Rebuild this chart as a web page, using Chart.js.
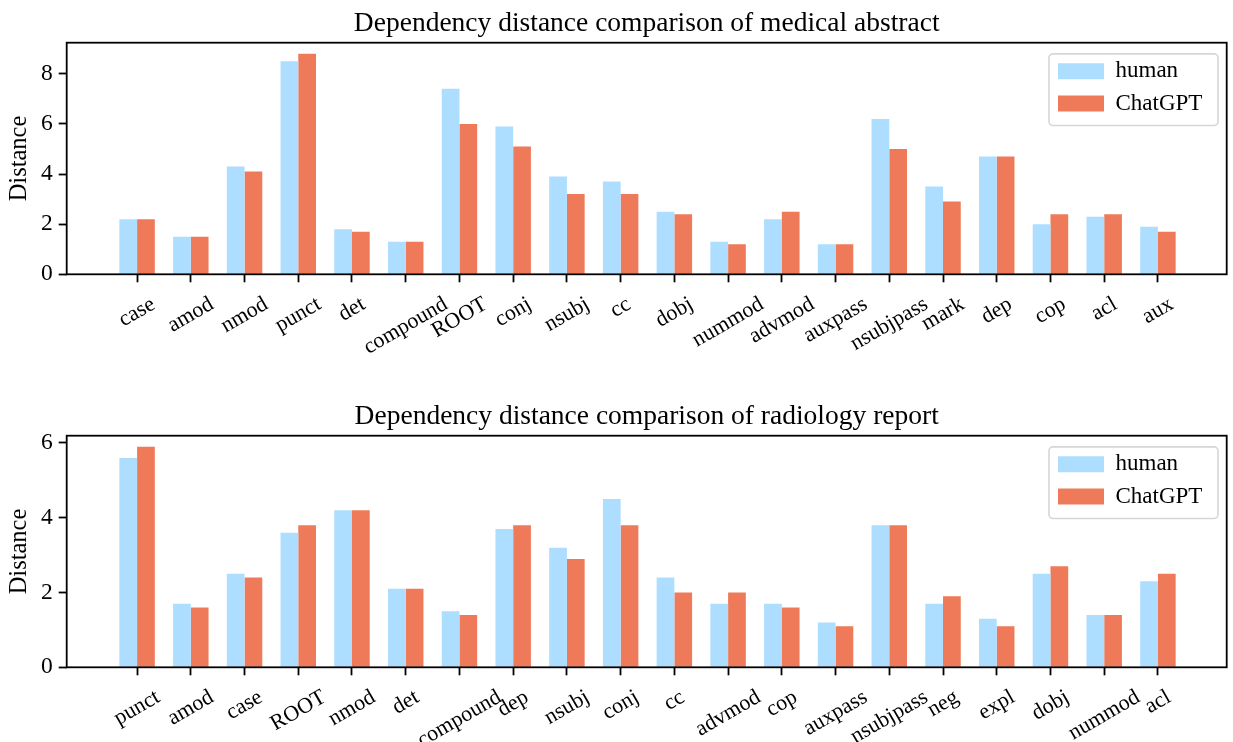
<!DOCTYPE html>
<html>
<head>
<meta charset="utf-8">
<script src="https://cdn.jsdelivr.net/npm/chart.js@4.4.0/dist/chart.umd.min.js"></script>
<style>
html,body{margin:0;padding:0;background:#fff;width:1233px;height:742px;overflow:hidden;position:relative;}
.box{position:absolute;left:0;width:1233px;}
canvas{display:block;}
</style>
</head>
<body>
<div class="box" style="top:0px;height:393px"><canvas id="c1" width="1233" height="393" style="width:1233px;height:393px"></canvas></div>
<div class="box" style="top:393px;height:349px"><canvas id="c2" width="1233" height="349" style="width:1233px;height:349px"></canvas></div>
<script>
// ---------- data ----------
const medicalTitle = 'Dependency distance comparison of medical abstract';
const medicalCategories = ['case','amod','nmod','punct','det','compound','ROOT','conj','nsubj','cc','dobj','nummod','advmod','auxpass','nsubjpass','mark','dep','cop','acl','aux'];
const medicalHuman   = [2.2,1.5,4.3,8.5,1.8,1.3,7.4,5.9,3.9,3.7,2.5,1.3,2.2,1.2,6.2,3.5,4.7,2.0,2.3,1.9];
const medicalChatGPT = [2.2,1.5,4.1,8.8,1.7,1.3,6.0,5.1,3.2,3.2,2.4,1.2,2.5,1.2,5.0,2.9,4.7,2.4,2.4,1.7];
const medicalYMax = 9.24;

const radiologyTitle = 'Dependency distance comparison of radiology report';
const radiologyCategories = ['punct','amod','case','ROOT','nmod','det','compound','dep','nsubj','conj','cc','advmod','cop','auxpass','nsubjpass','neg','expl','dobj','nummod','acl'];
const radiologyHuman   = [5.6,1.7,2.5,3.6,4.2,2.1,1.5,3.7,3.2,4.5,2.4,1.7,1.7,1.2,3.8,1.7,1.3,2.5,1.4,2.3];
const radiologyChatGPT = [5.9,1.6,2.4,3.8,4.2,2.1,1.4,3.8,2.9,3.8,2.0,2.0,1.6,1.1,3.8,1.9,1.1,2.7,1.4,2.5];
const radiologyYMax = 6.195;

const seriesNames = ['human','ChatGPT'];
const yAxisTitle = 'Distance';
const yStep = 2;

// ---------- style ----------
const FONT = "'Liberation Serif', 'Times New Roman', serif";
const HUMAN_COLOR = '#ADDEFF';
const GPT_COLOR = '#EE7A5A';

const framePlugin = {
  id: 'frame',
  afterLayout(chart) {
    const ca = chart.chartArea;
    const lg = chart.legend;
    if (lg) {
      lg.left = ca.right - 178.1;
      lg.top = ca.top + 7.6;
    }
  },
  beforeDraw(chart) {
    const ctx = chart.ctx, ca = chart.chartArea;
    const x0 = ca.right - 177.7, x1 = ca.right - 8.7, y0 = ca.top + 11.2, y1 = ca.top + 82.8;
    const r = 4;
    ctx.save();
    ctx.beginPath();
    ctx.moveTo(x0 + r, y0);
    ctx.arcTo(x1, y0, x1, y1, r);
    ctx.arcTo(x1, y1, x0, y1, r);
    ctx.arcTo(x0, y1, x0, y0, r);
    ctx.arcTo(x0, y0, x1, y0, r);
    ctx.closePath();
    ctx.fillStyle = '#ffffff';
    ctx.fill();
    ctx.lineWidth = 1.6;
    ctx.strokeStyle = '#d6d6d6';
    ctx.stroke();
    ctx.restore();
  },
  afterDatasetsDraw(chart) {
    const ctx = chart.ctx, ca = chart.chartArea;
    ctx.save();
    ctx.lineWidth = 1.8;
    ctx.strokeStyle = '#000';
    ctx.strokeRect(ca.left, ca.top, ca.right - ca.left, ca.bottom - ca.top);
    ctx.restore();
  },
  afterDraw(chart) {
    // rotated x tick labels, centred on the tick (matplotlib style)
    const xs = chart.scales.x, ctx = chart.ctx;
    const a = 30 * Math.PI / 180;
    const fs = 22;
    ctx.save();
    ctx.font = fs + 'px ' + FONT;
    ctx.fillStyle = '#000';
    ctx.textAlign = 'center';
    ctx.textBaseline = 'middle';
    const yTop = chart.chartArea.bottom + 18;
    xs.ticks.forEach((t) => {
      const x = xs.getPixelForValue(t.value);
      const label = t.label;
      const w = ctx.measureText(label).width;
      const h = fs * 1.1;
      const bh = w * Math.sin(a) + h * Math.cos(a);
      ctx.save();
      ctx.translate(x, yTop + bh / 2);
      ctx.rotate(-a);
      ctx.fillText(label, 0, 0);
      ctx.restore();
    });
    ctx.restore();
  }
};

function makeChart(id, title, cats, human, gpt, ymax, padBottom) {
  const toPts = (arr) => arr.map((v, i) => ({x: i, y: v}));
  return new Chart(document.getElementById(id), {
    type: 'bar',
    data: {
      datasets: [
        {label: seriesNames[0], data: toPts(human), backgroundColor: HUMAN_COLOR, borderWidth: 0, categoryPercentage: 0.66, barPercentage: 1},
        {label: seriesNames[1], data: toPts(gpt), backgroundColor: GPT_COLOR, borderWidth: 0, categoryPercentage: 0.66, barPercentage: 1}
      ]
    },
    options: {
      responsive: false,
      animation: false,
      devicePixelRatio: 1,
      layout: {padding: {left: 0, right: 6.3, top: 0, bottom: padBottom}},
      plugins: {
        title: {
          display: true, text: title, color: '#000', fullSize: false,
          font: {family: FONT, size: 27.5, weight: 'normal', lineHeight: 1.2},
          padding: {top: 7.5, bottom: 2.2}
        },
        legend: {
          display: true, position: 'chartArea', align: 'start',
          labels: {boxWidth: 46, boxHeight: 16, padding: 9.4, color: '#000', font: {family: FONT, size: 23}}
        },
        tooltip: {enabled: false}
      },
      scales: {
        x: {
          type: 'linear', offset: false,
          min: -1.31, max: cats.length + 0.28,
          afterBuildTicks: (s) => { s.ticks = cats.map((c, i) => ({value: i})); },
          afterFit: (s) => { s.height = 74.7; },
          ticks: {display: false, callback: (v) => cats[v]},
          grid: {display: true, offset: false, drawOnChartArea: false, drawTicks: true, tickLength: 8, tickWidth: 1.8, tickColor: '#000', color: '#000'},
          border: {display: false}
        },
        y: {
          type: 'linear', min: 0, max: ymax,
          afterFit: (s) => { s.width = 66.7; },
          ticks: {stepSize: yStep, includeBounds: false, color: '#000', padding: 6, font: {family: FONT, size: 23.5}},
          grid: {display: true, drawOnChartArea: false, drawTicks: true, tickLength: 8, tickWidth: 1.8, tickColor: '#000', color: '#000'},
          border: {display: false},
          title: {display: true, text: yAxisTitle, color: '#000', font: {family: FONT, size: 24.5}, padding: {top: 5, bottom: 0}}
        }
      }
    },
    plugins: [framePlugin]
  });
}

makeChart('c1', medicalTitle, medicalCategories, medicalHuman, medicalChatGPT, medicalYMax, 44);
makeChart('c2', radiologyTitle, radiologyCategories, radiologyHuman, radiologyChatGPT, radiologyYMax, 0);
</script>
</body>
</html>
